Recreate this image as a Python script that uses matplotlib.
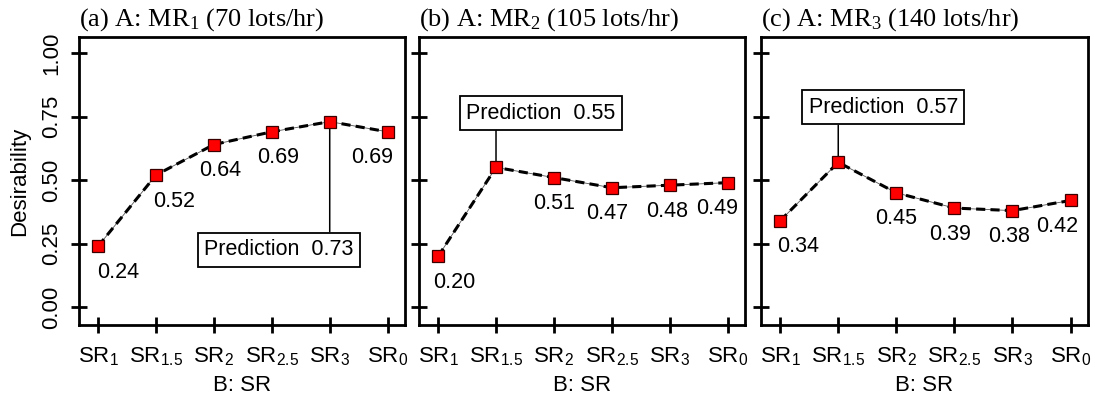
import numpy as np
import matplotlib
matplotlib.use("Agg")
import matplotlib.pyplot as plt

plt.rcParams['font.family'] = ['Liberation Sans', 'DejaVu Sans']
plt.rcParams['mathtext.fontset'] = 'custom'
plt.rcParams['mathtext.rm'] = 'Liberation Serif'
plt.rcParams['mathtext.sf'] = 'Liberation Sans'
plt.rcParams['mathtext.it'] = 'Liberation Serif:italic'

# data
sr_labels = ['1', '1.5', '2', '2.5', '3', '0']
titles = [r'(a) A: $\mathrm{MR}_1$ (70 lots/hr)',
          r'(b) A: $\mathrm{MR}_2$ (105 lots/hr)',
          r'(c) A: $\mathrm{MR}_3$ (140 lots/hr)']
desir_a = [0.24, 0.52, 0.64, 0.69, 0.73, 0.69]
desir_b = [0.20, 0.55, 0.51, 0.47, 0.48, 0.49]
desir_c = [0.34, 0.57, 0.45, 0.39, 0.38, 0.42]
pred_idx = [4, 1, 1]

# styling of labels (ha, dx in px) and prediction boxes (px offsets)
lab_ha = [['left', 'left', 'center', 'center', None, 'right'],
          ['left', None, 'center', 'center', 'center', 'right'],
          ['left', None, 'center', 'center', 'center', 'right']]
lab_dx = [[-1, -3, 6, 6, 0, 5],
          [-5, 0, 0, -5, -3, 10],
          [-3, 0, 0, -4, -3, 8]]
box_off = [(-51, -128), (45, 54), (45, 55)]
stem_len = [-110, 38, 37]

W, H = 1095, 403
fig = plt.figure(figsize=(W / 100, H / 100), dpi=100)
lefts = [79, 419, 761]
widths = [326, 326, 327]
px = 0.72  # pixel -> points

x = np.arange(len(sr_labels))
for k, vals in enumerate([desir_a, desir_b, desir_c]):
    ax = fig.add_axes([lefts[k] / W, 1 - 325 / H, widths[k] / W, 288 / H])
    ax.plot(x, vals, color='#555555', lw=0.6, zorder=2)
    ax.plot(x, vals, color='black', lw=2.2, dashes=(3, 1.7), zorder=3)
    ax.plot(x, vals, 's', color='#ff0000', mec='#3a0000', mew=0.9, ms=9, zorder=4)
    for i, v in enumerate(vals):
        if i == pred_idx[k]:
            continue
        ax.annotate(f"{v:.2f}", (x[i], v), xytext=(lab_dx[k][i] * px, -26 * px),
                    textcoords='offset points', ha=lab_ha[k][i], va='center',
                    fontsize=15.5)
    p = pred_idx[k]
    ax.annotate('', (x[p], vals[p]), xytext=(0, stem_len[k] * px),
                textcoords='offset points',
                arrowprops=dict(arrowstyle='-', color='black', lw=1.1,
                                shrinkA=0, shrinkB=0), zorder=1)
    ax.annotate(f"Prediction  {vals[p]:.2f}", (x[p], vals[p]),
                xytext=(box_off[k][0] * px, box_off[k][1] * px),
                textcoords='offset points', ha='center', va='center', fontsize=15.5,
                bbox=dict(boxstyle='square,pad=0.3', fc='white', ec='black', lw=1.3),
                zorder=5)
    ax.set_xlim(-0.33, 5.3)
    ax.set_ylim(-0.07, 1.063)
    ax.set_xticks(x)
    ax.set_xticklabels([r'$\mathsf{SR_{%s}}$' % s for s in sr_labels], fontsize=16)
    ax.set_yticks([0, 0.25, 0.5, 0.75, 1.0])
    ax.tick_params(direction='inout', length=12, width=2, pad=6)
    ax.tick_params(axis='x', pad=9)
    for sp in ax.spines.values():
        sp.set_linewidth(2)
    if k == 0:
        ax.set_yticklabels(['0.00', '0.25', '0.50', '0.75', '1.00'], rotation=90,
                           va='center', fontsize=16)
        ax.set_ylabel('Desirability', fontsize=16, labelpad=8)
    else:
        ax.set_yticklabels([])
    ax.set_xlabel('B: SR', fontsize=16, labelpad=5)
    ax.set_title(titles[k], loc='left', fontsize=19, family='Liberation Serif', pad=8)

fig.savefig('out.png', dpi=100)
